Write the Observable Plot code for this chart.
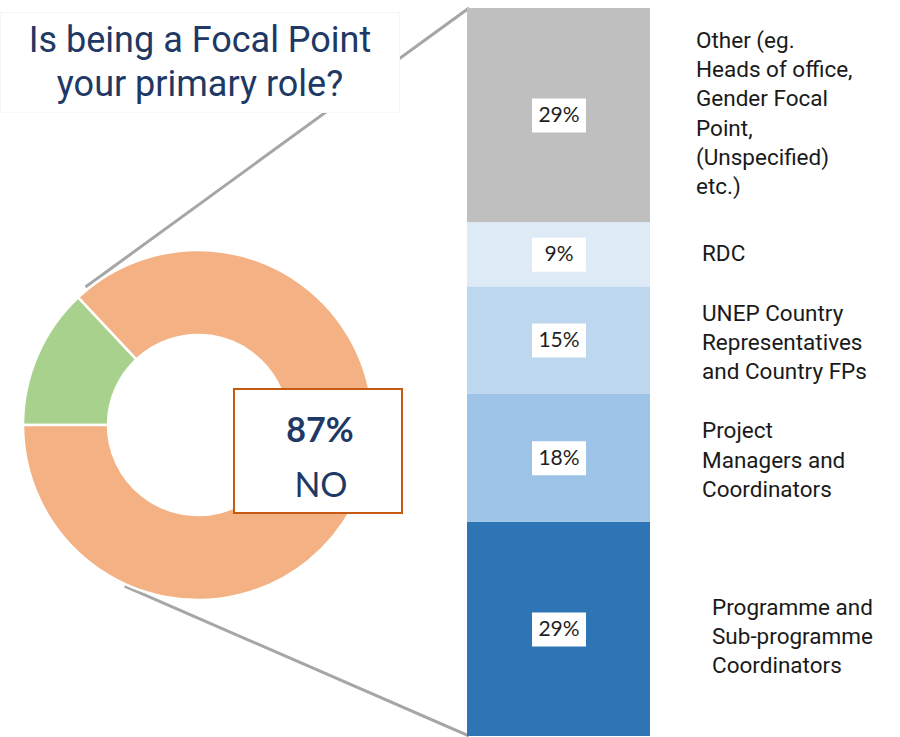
<!DOCTYPE html>
<html>
<head>
<meta charset="utf-8">
<script src="https://cdn.jsdelivr.net/npm/d3@7"></script>
<script src="https://cdn.jsdelivr.net/npm/@observablehq/plot@0.6"></script>
<style>
  html, body { margin: 0; padding: 0; background: #fff; overflow: hidden; }
  #wrap { position: relative; width: 900px; height: 737px; }
  #wrap svg { display: block; }
  #title {
    position: absolute; left: 0; top: 12px; width: 400px; height: 101px; z-index: 2;
    box-sizing: border-box; background: #fff; border: 1px solid #f7f7f7;
    font-family: Roboto, sans-serif; font-size: 36px; line-height: 44px; color: #203864;
    text-align: center; padding-top: 5px;
  }
</style>
</head>
<body>
<div id="wrap"><div id="title">Is being a Focal Point<br>your primary role?</div></div>
<script>
// ---- Donut: "Is being a Focal Point your primary role?" (percent of respondents)
const pieCategories = ["YES", "NO"];
const pieValues = [13, 87];

// ---- Breakdown bar (respondents, listed bottom to top)
const roleCategories = [
  "Programme and\nSub-programme\nCoordinators",
  "Project\nManagers and\nCoordinators",
  "UNEP Country\nRepresentatives\nand Country FPs",
  "RDC",
  "Other (eg.\nHeads of office,\nGender Focal\nPoint,\n(Unspecified)\netc.)"
];
const roleCounts = [10, 6, 5, 3, 10];
const roleLabels = ["29%", "18%", "15%", "9%", "29%"];

// ---- styles
const pieColors = ["#a9d18e", "#f4b183"];
const roleColors = ["#2e75b6", "#9dc3e6", "#bdd7ee", "#deebf7", "#bfbfbf"];
// per-label nudges (layout only), indexed like roleCategories
const labelNudge = [
  {dx: 153, dy: 5},
  {dx: 143, dy: 0},
  {dx: 143, dy: 0},
  {dx: 143, dy: -3},
  {dx: 137, dy: -4}
];

const pieData = pieCategories.map((c, i) => ({cat: c, value: pieValues[i]}));
const rows = roleCategories.map((c, i) => ({cat: c, count: roleCounts[i], label: roleLabels[i], i}));
const total = d3.sum(roleCounts);

// white label box symbol
const boxSymbol = { draw(ctx) { ctx.rect(-27, -17, 54, 34); } };

function donutMark(index, scales, values, dimensions, context) {
  const cx = 198, cy = 425, r0 = 90, r1 = 175;
  const g = d3.create("svg:g");
  const xs = scales && scales.x, ys = scales && scales.y;
  const barLeft = (xs ? xs("bar") : 467) + 2;
  const barTop = ys ? ys(total) : 8;
  const barBottom = ys ? ys(0) : 736;
  const pie = d3.pie().sort(null).value(d => d.value)
    .startAngle(1.5 * Math.PI).endAngle(3.5 * Math.PI);
  const arcs = pie(pieData);
  const polar = (a, r) => [cx + r * Math.sin(a), cy - r * Math.cos(a)];
  // connectors
  const noArc = arcs[1];
  const a1 = noArc.startAngle + 4 * Math.PI / 180;
  const a2 = 204.5 * Math.PI / 180;
  const p1 = polar(a1, 178), p2 = polar(a2, 177);
  g.append("line").attr("x1", p1[0]).attr("y1", p1[1]).attr("x2", barLeft).attr("y2", barTop)
    .attr("stroke", "#a6a6a6").attr("stroke-width", 3);
  g.append("line").attr("x1", p2[0]).attr("y1", p2[1]).attr("x2", barLeft).attr("y2", barBottom)
    .attr("stroke", "#a6a6a6").attr("stroke-width", 3);
  // donut
  const arc = d3.arc().innerRadius(r0).outerRadius(r1);
  g.append("g").attr("transform", `translate(${cx},${cy})`)
    .selectAll("path").data(arcs).join("path")
    .attr("d", arc)
    .attr("fill", (d, i) => pieColors[i])
    .attr("stroke", "#fff").attr("stroke-width", 2.5);
  // 87% NO callout
  const box = g.append("g");
  box.append("rect").attr("x", 234).attr("y", 389).attr("width", 168).attr("height", 124)
    .attr("fill", "#fff").attr("stroke", "#c55a11").attr("stroke-width", 2);
  box.append("text").attr("x", 320).attr("y", 442).attr("text-anchor", "middle")
    .attr("font-family", "Lato, sans-serif").attr("font-weight", "bold").attr("font-size", 34)
    .attr("fill", "#203864").text(pieValues[1] + "%");
  box.append("text").attr("x", 321).attr("y", 497).attr("text-anchor", "middle")
    .attr("font-family", "Lato, sans-serif").attr("font-size", 34)
    .attr("fill", "#203864").text(pieCategories[1]);
  return g.node();
}

const catLabelMarks = labelNudge.map((n, k) =>
  Plot.text(rows, Plot.stackY({x: () => "bar", y: "count",
    text: d => d.i === k ? d.cat : "",
    textAnchor: "start", dx: n.dx, dy: n.dy, lineHeight: 1.3,
    fontFamily: "Roboto, sans-serif", fontSize: 22.5, fill: "#1a1a1a"}))
);

const chart = Plot.plot({
  width: 900,
  height: 737,
  margin: 0,
  style: {background: "#fff", overflow: "hidden"},
  x: {type: "band", domain: ["bar"], range: [467, 650], padding: 0, axis: null},
  y: {domain: [0, total], range: [736, 8], axis: null},
  color: {domain: roleCategories, range: roleColors},
  marks: [
    donutMark,
    Plot.barY(rows, {x: () => "bar", y: "count", fill: "cat"}),
    Plot.dot(rows, Plot.stackY({x: () => "bar", y: "count", symbol: boxSymbol, fill: "#fff", stroke: null, r: 10})),
    Plot.text(rows, Plot.stackY({x: () => "bar", y: "count", text: "label",
      fontFamily: "Lato, sans-serif", fontSize: 21, fill: "#1f1f1f"})),
    ...catLabelMarks
  ]
});
document.getElementById("wrap").prepend(chart);
</script>
</body>
</html>
